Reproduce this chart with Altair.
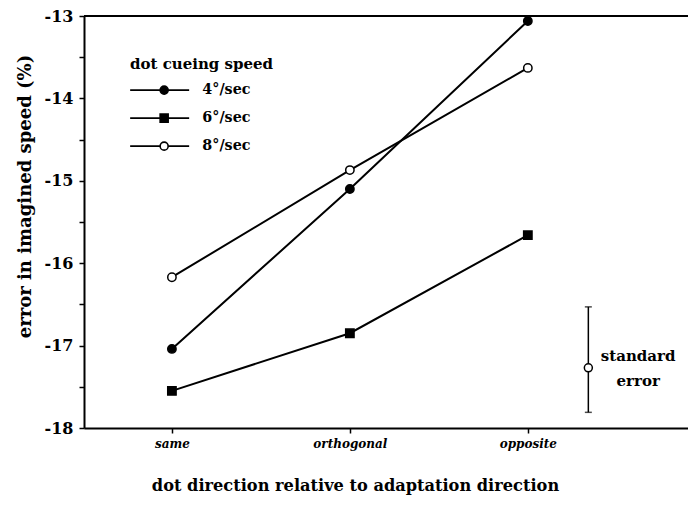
import altair as alt
import pandas as pd

categories = ["same", "orthogonal", "opposite"]
series = ["4°/sec", "6°/sec", "8°/sec"]
speed4 = [-17.04, -15.10, -13.06]
speed6 = [-17.55, -16.85, -15.66]
speed8 = [-16.17, -14.87, -13.63]
se_x = [2.34]
se_mid = [-17.27]
se_low = [-17.81]
se_high = [-16.53]
se_text_x = [2.62]
se_text_y = [-17.13]
se_label = ["standard\nerror"]
y_tick_values = [-18, -17.5, -17, -16.5, -16, -15.5, -15, -14.5, -14, -13.5, -13]

FONT = "DejaVu Serif"

rows = []
for s, vals in zip(series, [speed4, speed6, speed8]):
    for i, (c, v) in enumerate(zip(categories, vals)):
        rows.append({"series": s, "pos": i, "cat": c, "value": v})
df = pd.DataFrame(rows)

se_df = pd.DataFrame({"x": se_x, "mid": se_mid, "lo": se_low, "hi": se_high})
txt_df = pd.DataFrame({"x": se_text_x, "y": se_text_y, "label": se_label})

label_expr = "[" + ",".join("'%s'" % c for c in categories) + "][datum.value]"

x_enc = alt.X(
    "pos:Q",
    scale=alt.Scale(domain=[-0.494, 2.9], nice=False, zero=False),
    axis=alt.Axis(
        values=[0, 1, 2], labelExpr=label_expr, title="dot direction relative to adaptation direction",
        grid=False, domain=True, domainColor="black", domainWidth=2,
        tickColor="black", tickWidth=1.5, tickSize=5,
        labelFont=FONT, labelFontSize=12, labelFontWeight="bold", labelFontStyle="italic",
        labelColor="black", labelPadding=5,
        titleFont=FONT, titleFontSize=16.2, titleFontWeight="bold", titleColor="black",
        titlePadding=28, titleX=271, titleAlign="center",
    ),
)
y_scale = alt.Scale(domain=[-18, -13], nice=False, zero=False)
y_enc = alt.Y(
    "value:Q",
    scale=y_scale,
    axis=alt.Axis(
        values=y_tick_values, labelExpr="datum.value % 1 == 0 ? datum.value : ''",
        title="error in imagined speed (%)", grid=False,
        domainColor="black", domainWidth=2, tickColor="black", tickWidth=1.5, tickSize=5,
        labelFont=FONT, labelFontSize=16, labelFontWeight="bold", labelColor="black",
        labelPadding=6,
        titleFont=FONT, titleFontSize=18, titleFontWeight="bold", titleColor="black",
        titlePadding=10, titleY=180, titleAlign="center",
    ),
)

lines = alt.Chart(df).mark_line(color="black", strokeWidth=2).encode(
    x=x_enc, y=y_enc, detail="series:N"
)

points = alt.Chart(df).mark_point(filled=True, stroke="black", strokeWidth=1.5, opacity=1).encode(
    x="pos:Q",
    y="value:Q",
    shape=alt.Shape("series:N", scale=alt.Scale(domain=series, range=["circle", "square", "circle"]), legend=None),
    fill=alt.Fill("series:N", scale=alt.Scale(domain=series, range=["black", "black", "white"]), legend=None),
    size=alt.value(70),
)

circle_path = "M-8.5,0H-1M1,0H6.25M-1,0A1,1 0 1,0 1,0A1,1 0 1,0 -1,0Z"
square_path = "M-8.5,0H-1M1,0H6.25M-1,-1H1V1H-1Z"

legend_spec = dict(
    title="dot cueing speed", orient="none", legendX=46, legendY=41, padding=0,
    titleFont=FONT, titleFontSize=15, titleFontWeight="bold", titleColor="black",
    titlePadding=11,
    labelFont=FONT, labelFontSize=14.3, labelFontWeight="bold", labelColor="black",
    symbolSize=64, symbolOffset=27, labelOffset=31, rowPadding=12,
    symbolStrokeWidth=1.6,
)

legend_layer = alt.Chart(df).transform_filter("false").mark_point(
    filled=True, strokeWidth=1.5, opacity=1
).encode(
    x="pos:Q",
    y="value:Q",
    shape=alt.Shape(
        "series:N",
        scale=alt.Scale(domain=series, range=[circle_path, square_path, circle_path]),
        legend=alt.Legend(**legend_spec),
    ),
    fill=alt.Fill(
        "series:N",
        scale=alt.Scale(domain=series, range=["black", "black", "white"]),
        legend=alt.Legend(**legend_spec),
    ),
    stroke=alt.Stroke(
        "series:N",
        scale=alt.Scale(domain=series, range=["black", "black", "black"]),
        legend=alt.Legend(**legend_spec),
    ),
)

top_line = alt.Chart(df).mark_rule(color="black", strokeWidth=2).encode(
    y=alt.datum(-13)
)

se_bar = alt.Chart(se_df).mark_rule(color="black", strokeWidth=1.5).encode(
    x="x:Q", y="lo:Q", y2="hi:Q"
)
se_caps_lo = alt.Chart(se_df).mark_tick(color="black", thickness=1.5, size=7, orient="horizontal").encode(
    x="x:Q", y="lo:Q"
)
se_caps_hi = alt.Chart(se_df).mark_tick(color="black", thickness=1.5, size=7, orient="horizontal").encode(
    x="x:Q", y="hi:Q"
)
se_point = alt.Chart(se_df).mark_point(filled=True, fill="white", stroke="black", strokeWidth=1.5, size=64, opacity=1).encode(
    x="x:Q", y="mid:Q"
)
se_text = alt.Chart(txt_df).mark_text(
    font=FONT, fontSize=15, fontWeight="bold", color="black", align="center", baseline="middle",
    lineBreak="\n", lineHeight=25,
).encode(x="x:Q", y="y:Q", text="label:N")

chart = alt.layer(
    top_line, lines, points, legend_layer, se_bar, se_caps_lo, se_caps_hi, se_point, se_text
).resolve_scale(shape="independent", fill="independent", stroke="independent").properties(
    width=604, height=412,
    padding={"left": 76, "top": 8, "right": 0, "bottom": 71},
    autosize="none",
).configure_view(stroke=None).configure(background="white")

chart.save("out.html", embed_options={"renderer": "svg", "actions": False})
